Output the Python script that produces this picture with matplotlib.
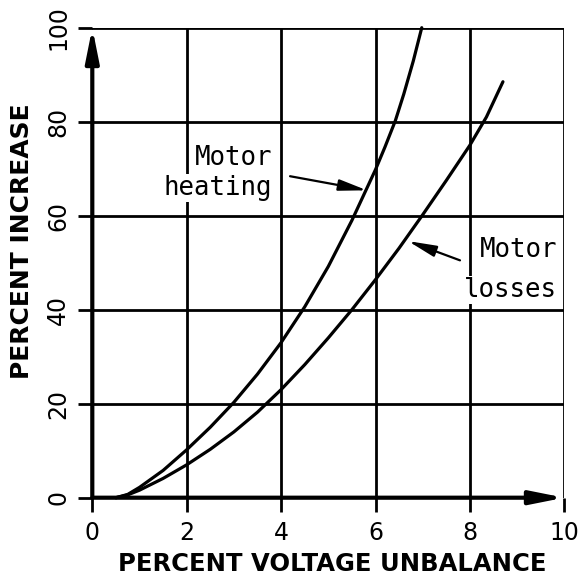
import matplotlib
matplotlib.use("Agg")
import matplotlib.pyplot as plt

# Data
heat_x = [0.5, 0.75, 1.0, 1.5, 2.0, 2.5, 3.0, 3.5, 4.0, 4.5, 5.0, 5.5, 6.0, 6.2, 6.42, 6.6, 6.8, 6.98]
heat_y = [0.0, 0.7, 2.2, 5.8, 10.2, 15.0, 20.3, 26.3, 33.0, 40.6, 49.2, 59.0, 69.8, 74.6, 80.2, 85.9, 92.9, 100.0]
loss_x = [0.5, 0.75, 1.0, 1.5, 2.0, 2.5, 3.0, 3.5, 4.0, 4.5, 5.0, 5.5, 6.0, 6.5, 7.0, 7.5, 8.0, 8.35, 8.7]
loss_y = [0.0, 0.6, 1.6, 4.1, 7.0, 10.3, 14.0, 18.2, 23.0, 28.3, 34.0, 40.0, 46.4, 53.1, 60.2, 67.5, 75.0, 81.0, 88.5]
x_ticks = [0, 2, 4, 6, 8, 10]
y_ticks = [0, 20, 40, 60, 80, 100]

fig = plt.figure(figsize=(5.82, 5.86), dpi=100)
x0, x1 = 92.3 / 582, 564.3 / 582
y0, y1 = 1 - 497.7 / 586, 1 - 27.7 / 586
ax = fig.add_axes([x0, y0, x1 - x0, y1 - y0])
ax.set_xlim(0, 10)
ax.set_ylim(0, 100)

for s in ax.spines.values():
    s.set_visible(False)

# grid
for xv in x_ticks[1:]:
    ax.axvline(xv, color="black", lw=2.0, zorder=1)
for yv in y_ticks[1:]:
    ax.axhline(yv, color="black", lw=2.0, zorder=1)

# axes with arrows
axis_arrow = dict(arrowstyle="-|>,head_length=1.0,head_width=0.2", lw=3.0, color="black",
                  mutation_scale=20, shrinkA=0, shrinkB=0)
ax.annotate("", xy=(0, 100), xytext=(0, 0), xycoords="data", arrowprops=axis_arrow,
            annotation_clip=False, zorder=3)
ax.annotate("", xy=(10, 0), xytext=(0, 0), xycoords="data", arrowprops=axis_arrow,
            annotation_clip=False, zorder=3)

ax.plot(heat_x, heat_y, color="black", lw=2.3, zorder=4, clip_on=False,
        solid_joinstyle="round", solid_capstyle="round")
ax.plot(loss_x, loss_y, color="black", lw=2.3, zorder=4, clip_on=False,
        solid_joinstyle="round", solid_capstyle="round")

ax.set_xticks(x_ticks)
ax.set_yticks(y_ticks)
ax.tick_params(axis="x", direction="out", length=10, width=2.0, pad=7, labelsize=17)
ax.tick_params(axis="y", direction="out", length=10, width=2.0, pad=6, labelsize=17)
for lab in ax.get_yticklabels():
    lab.set_rotation(90)
    lab.set_va("center")

ax.set_xlabel("PERCENT VOLTAGE UNBALANCE", fontsize=17.5, fontweight="bold", va="center")
ax.xaxis.set_label_coords(0.509, -0.141)
ax.set_ylabel("PERCENT INCREASE", fontsize=18, fontweight="bold", va="center")
ax.yaxis.set_label_coords(-0.150, 0.545)

mono = "DejaVu Sans Mono"
box = dict(facecolor="white", edgecolor="none", pad=1)
txt = dict(family=mono, fontsize=18.5, ha="right", va="baseline", zorder=5, bbox=box)
ax.text(3.81, 70.8, "Motor", **txt)
ax.text(3.81, 64.4, "heating", **txt)
ax.text(9.85, 51.2, "Motor", **txt)
ax.text(9.85, 42.7, "losses", **txt)

pointer = dict(arrowstyle="-|>,head_length=0.85,head_width=0.17", lw=1.6, color="black",
               mutation_scale=20, shrinkA=0, shrinkB=0)
ax.annotate("", xy=(5.82, 65.4), xytext=(4.19, 68.4), arrowprops=pointer, zorder=5)
ax.annotate("", xy=(6.69, 54.6), xytext=(7.79, 50.5), arrowprops=pointer, zorder=5)

fig.savefig("out.png", dpi=100)
